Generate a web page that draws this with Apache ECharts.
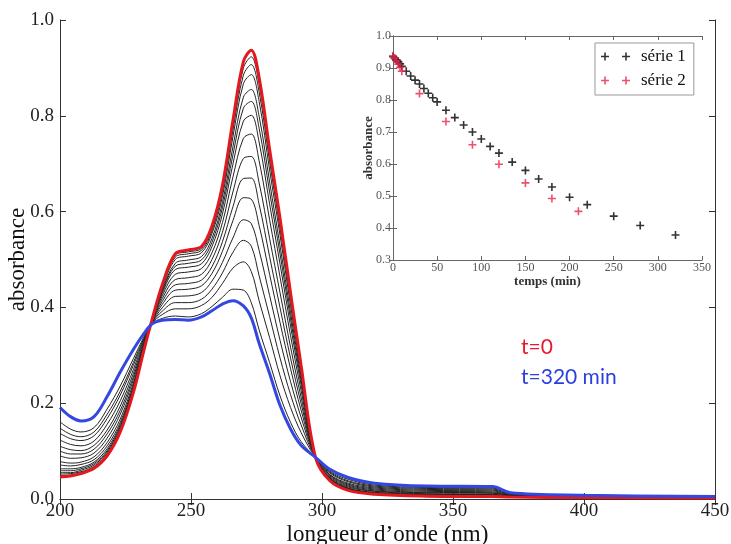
<!DOCTYPE html>
<html>
<head>
<meta charset="utf-8">
<script src="https://cdn.jsdelivr.net/npm/echarts@6/dist/echarts.min.js"></script>
<style>html,body{margin:0;padding:0;background:#fff}#c{width:731px;height:544px}</style>
</head>
<body>
<div id="c"></div>
<script>
// ---------- main chart: wavelengths (nm) ----------
const wavelengths = [200, 204, 208, 213, 218, 223, 228, 232, 235, 239, 244, 249, 254, 258, 262, 266, 270, 273, 276, 280, 284, 288, 292, 297.5, 303, 310, 320, 340, 365, 372, 400, 450];

// absorbance spectra
const specT0   = [.046,.048,.053,.064,.090,.140,.222,.310,.372,.447,.512,.520,.527,.570,.655,.790,.913,.937,.880,.730,.585,.430,.280,.087,.038,.018,.010,.006,.005,.004,.003,.002];
const spec1  = [.049,.050,.055,.066,.093,.143,.224,.311,.372,.445,.509,.516,.523,.566,.649,.781,.900,.923,.866,.718,.575,.423,.276,.087,.039,.019,.011,.007,.006,.004,.003,.002];
const spec2  = [.052,.053,.057,.068,.095,.145,.226,.311,.371,.443,.505,.512,.519,.560,.642,.770,.885,.907,.850,.705,.564,.415,.271,.087,.039,.020,.011,.007,.006,.005,.003,.002];
const spec3  = [.055,.055,.060,.071,.098,.147,.227,.312,.371,.440,.500,.507,.514,.554,.632,.756,.867,.886,.830,.687,.550,.404,.265,.087,.040,.021,.012,.008,.007,.005,.003,.002];
const spec4  = [.059,.059,.063,.074,.101,.151,.230,.313,.371,.436,.492,.499,.506,.544,.619,.735,.839,.855,.799,.662,.528,.389,.256,.087,.042,.022,.013,.009,.008,.005,.004,.002];
const spec5  = [.063,.063,.066,.077,.105,.155,.233,.314,.371,.433,.486,.492,.499,.536,.608,.718,.816,.830,.774,.641,.511,.376,.248,.087,.043,.023,.014,.010,.009,.006,.004,.003];
const spec6  = [.071,.069,.072,.082,.111,.160,.237,.316,.370,.429,.479,.484,.491,.527,.595,.699,.789,.801,.745,.616,.490,.361,.239,.087,.044,.025,.016,.011,.010,.006,.004,.003];
const spec7  = [.078,.075,.077,.088,.118,.167,.242,.318,.370,.424,.469,.474,.481,.514,.577,.672,.753,.762,.706,.583,.463,.341,.227,.087,.046,.027,.017,.013,.012,.007,.005,.003];
const spec8  = [.090,.085,.086,.096,.127,.177,.249,.321,.369,.418,.458,.462,.469,.500,.557,.641,.711,.715,.660,.544,.430,.317,.213,.087,.048,.029,.019,.014,.013,.008,.005,.003];
const spec9  = [.100,.094,.094,.104,.136,.185,.255,.323,.369,.412,.447,.450,.457,.485,.537,.610,.669,.670,.615,.506,.399,.294,.200,.087,.050,.031,.021,.016,.015,.008,.005,.003];
const spec10 = [.110,.103,.101,.112,.144,.194,.262,.325,.368,.406,.436,.438,.445,.471,.517,.581,.629,.626,.571,.469,.368,.272,.186,.087,.051,.033,.023,.018,.017,.009,.006,.004];
const spec11 = [.123,.114,.111,.121,.156,.205,.270,.329,.367,.399,.423,.424,.431,.455,.494,.545,.583,.575,.519,.425,.331,.245,.171,.087,.054,.036,.025,.020,.019,.010,.006,.004];
const spec12 = [.137,.126,.122,.132,.168,.217,.279,.332,.367,.392,.410,.410,.417,.438,.472,.515,.540,.528,.466,.381,.294,.218,.155,.087,.056,.038,.027,.022,.021,.011,.007,.004];
const spec13 = [.148,.135,.130,.140,.177,.225,.285,.335,.366,.385,.397,.397,.404,.421,.450,.482,.495,.475,.414,.337,.257,.191,.139,.087,.058,.041,.029,.024,.023,.012,.007,.005];
const spec14 = [.161,.146,.140,.149,.188,.236,.293,.338,.365,.377,.382,.380,.387,.402,.421,.438,.436,.410,.353,.285,.215,.160,.120,.087,.061,.044,.032,.026,.025,.013,.008,.005];
const specT320 = [.191,.172,.163,.172,.214,.265,.312,.345,.365,.373,.375,.373,.380,.393,.407,.414,.403,.378,.325,.262,.195,.146,.112,.087,.062,.045,.033,.027,.026,.013,.008,.005];

// ---------- inset: absorbance vs time ----------
const timeS1 = [0,2,4,6,8,10,15,20,25,30,35,40,45,50,60,70,80,90,100,110,120,135,150,165,180,200,220,250,280,320];
const absS1  = [0.935,0.930,0.925,0.920,0.913,0.905,0.890,0.875,0.862,0.850,0.836,0.821,0.807,0.794,0.768,0.745,0.722,0.700,0.678,0.655,0.634,0.606,0.580,0.553,0.528,0.496,0.473,0.437,0.408,0.378];
const timeS2 = [0,2,4,6,8,10,30,60,90,120,150,180,210];
const absS2  = [0.938,0.930,0.922,0.912,0.902,0.890,0.820,0.733,0.660,0.599,0.541,0.492,0.452];

const legendNames = ['série 1', 'série 2'];
const annotT0 = 't=0';
const annotT320 = 't=320 min';

// ---------- build ----------
const chart = echarts.init(document.getElementById('c'), null, {renderer: 'canvas'});
const pairs = (xs, ys) => xs.map((x, i) => [x, ys[i]]);
const serif = 'Liberation Serif';
const RED = '#e3191f', BLUE = '#3447e0', INK = '#222';

const blacks = [spec1, spec2, spec3, spec4, spec5, spec6, spec7, spec8, spec9, spec10, spec11, spec12, spec13, spec14];
const series = [];
blacks.forEach((s, k) => series.push({
  type: 'line', name: 'spec' + (k + 1), xAxisIndex: 0, yAxisIndex: 0,
  data: pairs(wavelengths, s), showSymbol: false, symbol: 'none', smooth: 0.35,
  lineStyle: {color: INK, width: 1}, z: 2, silent: true
}));
series.push({type: 'line', name: 't0', xAxisIndex: 0, yAxisIndex: 0, data: pairs(wavelengths, specT0),
  showSymbol: false, symbol: 'none', smooth: 0.35, lineStyle: {color: RED, width: 3}, z: 3, silent: true});
series.push({type: 'line', name: 't320', xAxisIndex: 0, yAxisIndex: 0, data: pairs(wavelengths, specT320),
  showSymbol: false, symbol: 'none', smooth: 0.35, lineStyle: {color: BLUE, width: 3}, z: 4, silent: true});

const plus = 'path://M3.2,0H4.8V3.2H8V4.8H4.8V8H3.2V4.8H0V3.2H3.2Z';
const plus2 = 'path://M3.2,0H4.8V3.2H8V4.8H4.8V8H3.2V4.8H0V3.2H3.2Z M24.2,0H25.8V3.2H29V4.8H25.8V8H24.2V4.8H21V3.2H24.2Z';
series.push({type: 'scatter', name: legendNames[0], xAxisIndex: 2, yAxisIndex: 2, data: pairs(timeS1, absS1),
  symbol: plus, symbolSize: 8, itemStyle: {color: '#000'}, z: 5});
series.push({type: 'scatter', name: legendNames[1], xAxisIndex: 2, yAxisIndex: 2, data: pairs(timeS2, absS2),
  symbol: plus, symbolSize: 8, itemStyle: {color: '#e8244e'}, z: 6});

const axLine = {show: true, lineStyle: {color: '#333', width: 1}};
const axLineIn = {show: true, lineStyle: {color: '#666', width: 1}};
const tickIn = (len, col) => ({show: true, inside: true, length: len, lineStyle: {color: col}});

const option = {
  backgroundColor: '#fff',
  animation: false,
  grid: [
    {left: 60, top: 20, width: 655, height: 479, containLabel: false, outerBoundsMode: 'none'},
    {left: 393, top: 36, width: 309, height: 224, containLabel: false, outerBoundsMode: 'none'}
  ],
  xAxis: [
    {gridIndex: 0, type: 'value', min: 200, max: 450, interval: 50, position: 'bottom',
     axisLine: axLine, axisTick: tickIn(6, '#333'), splitLine: {show: false},
     axisLabel: {margin: 3, fontFamily: serif, fontSize: 19, color: '#222'},
     name: "longueur d’onde (nm)", nameLocation: 'middle', nameGap: 24, nameMoveOverlap: false,
     nameTextStyle: {fontFamily: serif, fontSize: 23, color: '#111'}},
    {gridIndex: 0, type: 'value', min: 200, max: 450, interval: 50, position: 'top',
     axisLine: axLine, axisTick: tickIn(6, '#333'), splitLine: {show: false}, axisLabel: {show: false}},
    {gridIndex: 1, type: 'value', min: 0, max: 350, interval: 50, position: 'bottom',
     axisLine: axLineIn, axisTick: tickIn(4, '#666'), splitLine: {show: false},
     axisLabel: {margin: 2, fontFamily: serif, fontSize: 12, color: '#555'},
     name: 'temps (min)', nameLocation: 'middle', nameGap: 15, nameMoveOverlap: false,
     nameTextStyle: {fontFamily: serif, fontSize: 13, fontWeight: 'bold', color: '#333'}},
    {gridIndex: 1, type: 'value', min: 0, max: 350, interval: 50, position: 'top',
     axisLine: axLineIn, axisTick: tickIn(4, '#666'), splitLine: {show: false}, axisLabel: {show: false}}
  ],
  yAxis: [
    {gridIndex: 0, type: 'value', min: 0, max: 1, interval: 0.2, position: 'left',
     axisLine: axLine, axisTick: tickIn(6, '#333'), splitLine: {show: false},
     axisLabel: {margin: 6, fontFamily: serif, fontSize: 19, color: '#222', formatter: v => v.toFixed(1)},
     name: 'absorbance', nameLocation: 'middle', nameGap: 31, nameMoveOverlap: false,
     nameTextStyle: {fontFamily: serif, fontSize: 23, color: '#111'}},
    {gridIndex: 0, type: 'value', min: 0, max: 1, interval: 0.2, position: 'right',
     axisLine: axLine, axisTick: tickIn(6, '#333'), splitLine: {show: false}, axisLabel: {show: false}},
    {gridIndex: 1, type: 'value', min: 0.3, max: 1.0, interval: 0.1, position: 'left',
     axisLine: axLineIn, axisTick: tickIn(4, '#666'), splitLine: {show: false},
     axisLabel: {margin: 2, fontFamily: serif, fontSize: 12, color: '#555', formatter: v => v.toFixed(1)},
     name: 'absorbance', nameLocation: 'middle', nameGap: 18, nameMoveOverlap: false,
     nameTextStyle: {fontFamily: serif, fontSize: 13, fontWeight: 'bold', color: '#333'}},
    {gridIndex: 1, type: 'value', min: 0.3, max: 1.0, interval: 0.1, position: 'right',
     axisLine: axLineIn, axisTick: tickIn(4, '#666'), splitLine: {show: false}, axisLabel: {show: false}}
  ],
  legend: {
    show: true, orient: 'vertical', left: 595, top: 43,
    data: [{name: legendNames[0], icon: plus2}, {name: legendNames[1], icon: plus2}],
    itemWidth: 29, itemHeight: 8, itemGap: 7,
    padding: [5, 8, 6, 6], borderColor: '#999', borderWidth: 1, backgroundColor: '#fff',
    textStyle: {fontFamily: serif, fontSize: 17, color: '#111', padding: [0, 0, 0, 6]}
  },
  graphic: [
    {type: 'text', left: 521, top: 337, style: {text: annotT0, fill: '#e8192c', font: '21px Lato'}},
    {type: 'text', left: 521, top: 367, style: {text: annotT320, fill: '#2b3fe0', font: '21px Lato'}}
  ],
  series: series
};
chart.setOption(option);
</script>
</body>
</html>
